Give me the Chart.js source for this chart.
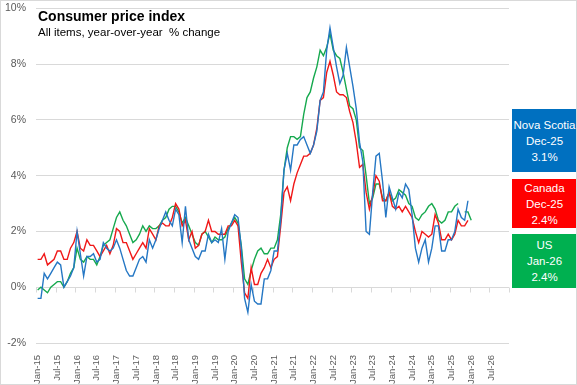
<!DOCTYPE html>
<html>
<head>
<meta charset="utf-8">
<script src="https://cdn.jsdelivr.net/npm/chart.js@4.4.1/dist/chart.umd.min.js"></script>
<style>
  html, body { margin: 0; padding: 0; background: #fff; }
  #wrap { position: relative; width: 577px; height: 385px; overflow: hidden; }
  /* canvas is nudged up so the 10% gridline lands near the top edge */
  #cpiChart { position: absolute; left: 0; top: -8px; }
  #frame { position: absolute; inset: 0; border: 1px solid #d9d9d9; pointer-events: none; }
  .title { position: absolute; left: 38px; top: 8px; font: bold 14px "Liberation Sans", sans-serif; color: #000; }
  .subtitle { position: absolute; left: 38px; top: 26px; font: 11.5px "Liberation Sans", sans-serif; color: #000; white-space: pre; }
  .tag { position: absolute; left: 512px; width: 65px; color: #fff; text-align: center;
         font: 11.5px "Liberation Sans", sans-serif; line-height: 16px;
         display: flex; flex-direction: column; justify-content: center; }
</style>
</head>
<body>
<div id="wrap">
  <canvas id="cpiChart" width="577" height="393"></canvas>
  <div class="title">Consumer price index</div>
  <div class="subtitle">All items, year-over-year  % change</div>
  <div class="tag" style="top:109px;height:63px;background:#0070C0">Nova Scotia<br>Dec-25<br>3.1%</div>
  <div class="tag" style="top:179px;height:49px;background:#FF0000">Canada<br>Dec-25<br>2.4%</div>
  <div class="tag" style="top:234px;height:54px;background:#00B050">US<br>Jan-26<br>2.4%</div>
  <div id="frame"></div>
</div>
<script>
// ─── DATA (monthly, year-over-year % change, from Jan-15) ───
const MONTHS = ['Jan', 'Feb', 'Mar', 'Apr', 'May', 'Jun', 'Jul', 'Aug', 'Sep', 'Oct', 'Nov', 'Dec'];
const YEARS = ['15', '16', '17', '18', '19', '20', '21', '22', '23', '24', '25', '26'];

const novaScotia = [
  -0.4, -0.4, 0.5, 0.3, 0.5, 0.7, 0.9, 0.8, 0.0, 0.2, 0.4, 0.7,
  2.0, 1.2, 0.4, 1.1, 1.1, 1.2, 0.9, 1.0, 1.6, 1.4, 1.3, 1.4,
  1.7, 1.4, 1.0, 0.6, 0.4, 0.4, 0.7, 1.0, 1.1, 0.9, 1.7, 1.4,
  1.7, 2.1, 2.4, 2.7, 2.4, 2.2, 2.8, 2.6, 1.6, 2.9, 1.7, 1.4,
  1.1, 1.0, 1.3, 1.3, 1.9, 1.6, 1.7, 1.6, 2.1, 1.0, 2.0, 2.3,
  2.6, 2.5, 1.4, -0.4, -0.9, 0.1, -0.5, -0.6, -0.6, 0.3, 0.3, 0.6,
  1.3, 1.3, 2.4, 4.2, 4.8, 4.2, 5.1, 5.1, 5.3, 5.4, 5.1, 4.8,
  5.1, 5.6, 6.7, 7.0, 8.5, 9.3, 8.6, 7.9, 7.3, 7.6, 8.6, 7.9,
  7.2, 6.4, 5.2, 4.5, 2.0, 1.9, 3.4, 4.7, 4.8, 3.8, 2.5, 3.6,
  3.2, 2.8, 3.4, 3.2, 3.7, 3.5, 2.6, 1.4, 0.9, 1.4, 1.7, 0.9,
  1.4, 2.2, 2.2, 1.3, 1.3, 1.7, 1.7, 2.0, 2.8, 2.5, 2.4, 3.1
];

const canada = [
  1.0, 1.0, 1.2, 0.8, 0.9, 1.0, 1.3, 1.3, 1.0, 1.0, 1.4, 1.6,
  2.0, 1.4, 1.3, 1.7, 1.5, 1.5, 1.3, 1.1, 1.3, 1.5, 1.2, 1.5,
  2.1, 2.0, 1.6, 1.6, 1.3, 1.0, 1.2, 1.4, 1.6, 1.4, 2.1, 1.9,
  1.7, 2.2, 2.3, 2.2, 2.2, 2.5, 3.0, 2.8, 2.2, 2.4, 1.7, 2.0,
  1.4, 1.5, 1.9, 2.0, 2.4, 2.0, 2.0, 1.9, 1.9, 1.9, 2.2, 2.2,
  2.4, 2.2, 0.9, -0.2, -0.4, 0.7, 0.1, 0.1, 0.5, 0.7, 1.0, 0.7,
  1.0, 1.1, 2.2, 3.4, 3.6, 3.1, 3.7, 4.1, 4.4, 4.7, 4.7, 4.8,
  5.1, 5.7, 6.7, 6.8, 7.7, 8.1, 7.6, 7.0, 6.9, 6.9, 6.8, 6.3,
  5.9, 5.2, 4.3, 4.4, 3.4, 2.8, 3.3, 4.0, 3.8, 3.1, 3.1, 3.4,
  2.9, 2.8, 2.9, 2.7, 2.9, 2.7, 2.5, 2.0, 1.6, 2.0, 1.9, 1.8,
  1.9, 2.6, 2.3, 1.7, 1.7, 1.9, 1.7, 1.9, 2.4, 2.2, 2.2, 2.4
];

const us = [
  -0.1, 0.0, -0.1, -0.2, 0.0, 0.1, 0.2, 0.2, 0.0, 0.2, 0.5, 0.7,
  1.4, 1.0, 0.9, 1.1, 1.0, 1.0, 0.8, 1.1, 1.5, 1.6, 1.7, 2.1,
  2.5, 2.7, 2.4, 2.2, 1.9, 1.6, 1.7, 1.9, 2.2, 2.0, 2.2, 2.1,
  2.1, 2.2, 2.4, 2.5, 2.8, 2.9, 2.9, 2.7, 2.3, 2.5, 2.2, 1.9,
  1.6, 1.5, 1.9, 2.0, 1.8, 1.6, 1.8, 1.7, 1.7, 1.8, 2.1, 2.3,
  2.5, 2.3, 1.5, 0.3, 0.1, 0.6, 1.0, 1.3, 1.4, 1.2, 1.2, 1.4,
  1.4, 1.7, 2.6, 4.2, 5.0, 5.4, 5.4, 5.3, 5.4, 6.2, 6.8, 7.0,
  7.5, 7.9, 8.5, 8.3, 8.6, 9.1, 8.5, 8.3, 8.2, 7.7, 7.1, 6.5,
  6.4, 6.0, 5.0, 4.9, 4.0, 3.0, 3.2, 3.7, 3.7, 3.2, 3.1, 3.4,
  3.1, 3.2, 3.5, 3.4, 3.3, 3.0, 2.9, 2.5, 2.4, 2.6, 2.7, 2.9,
  3.0, 2.8, 2.4, 2.3, 2.4, 2.7, 2.7, 2.9, 3.0, null, 2.7, 2.7,
  2.4
];

const Y_MIN = -2, Y_MAX = 10, Y_STEP = 2;

// category axis runs Jan-15 .. Dec-26, labelled every 6 months
const categories = [];
YEARS.forEach(y => MONTHS.forEach(m => categories.push(m + '-' + y)));

const GRID = '#d9d9d9';
const LABEL = '#595959';
const FONT = '"Liberation Sans", sans-serif';

// small tick marks hanging off the 0% line, between half-year groups
const zeroTicks = {
  id: 'zeroTicks',
  beforeDatasetsDraw(chart) {
    const { ctx, scales: { x, y } } = chart;
    const y0 = Math.round(y.getPixelForValue(0)) + 0.5;
    const half = (x.getPixelForValue(1) - x.getPixelForValue(0)) / 2;
    ctx.save();
    ctx.strokeStyle = GRID;
    ctx.lineWidth = 1;
    ctx.beginPath();
    for (let i = 0; i <= categories.length; i += 6) {
      const px = Math.round(x.getPixelForValue(i) - half) + 0.5;
      ctx.moveTo(px, y0);
      ctx.lineTo(px, y0 + 5);
    }
    ctx.stroke();
    ctx.restore();
  }
};

const line = (label, data, color) => ({
  label, data,
  borderColor: color,
  backgroundColor: color,
  borderWidth: 1.4,
  pointRadius: 0,
  tension: 0,
  spanGaps: false
});

new Chart(document.getElementById('cpiChart'), {
  type: 'line',
  data: {
    labels: categories,
    datasets: [
      line('Nova Scotia', novaScotia, '#2577C4'),
      line('Canada', canada, '#F01818'),
      line('US', us, '#16A94E')
    ]
  },
  options: {
    responsive: false,
    animation: false,
    layout: { padding: { top: 0, right: 68, left: 0, bottom: 0 } },
    plugins: { legend: { display: false }, tooltip: { enabled: false } },
    scales: {
      x: {
        offset: true,
        grid: { display: false },
        border: { display: false },
        ticks: {
          autoSkip: false,
          minRotation: 90,
          maxRotation: 90,
          padding: 4,
          color: LABEL,
          font: { family: FONT, size: 9.5 },
          callback(v, i) { return i % 6 === 0 ? categories[i] : null; }
        },
        afterFit(s) { s.height = 42; }
      },
      y: {
        min: Y_MIN,
        max: Y_MAX,
        grid: { color: GRID, drawTicks: false },
        border: { display: false },
        ticks: {
          stepSize: Y_STEP,
          padding: 10,
          color: LABEL,
          font: { family: FONT, size: 10.5 },
          callback: v => v + '%'
        },
        afterFit(s) { s.width = 36; }
      }
    }
  },
  plugins: [zeroTicks]
});
</script>
</body>
</html>
